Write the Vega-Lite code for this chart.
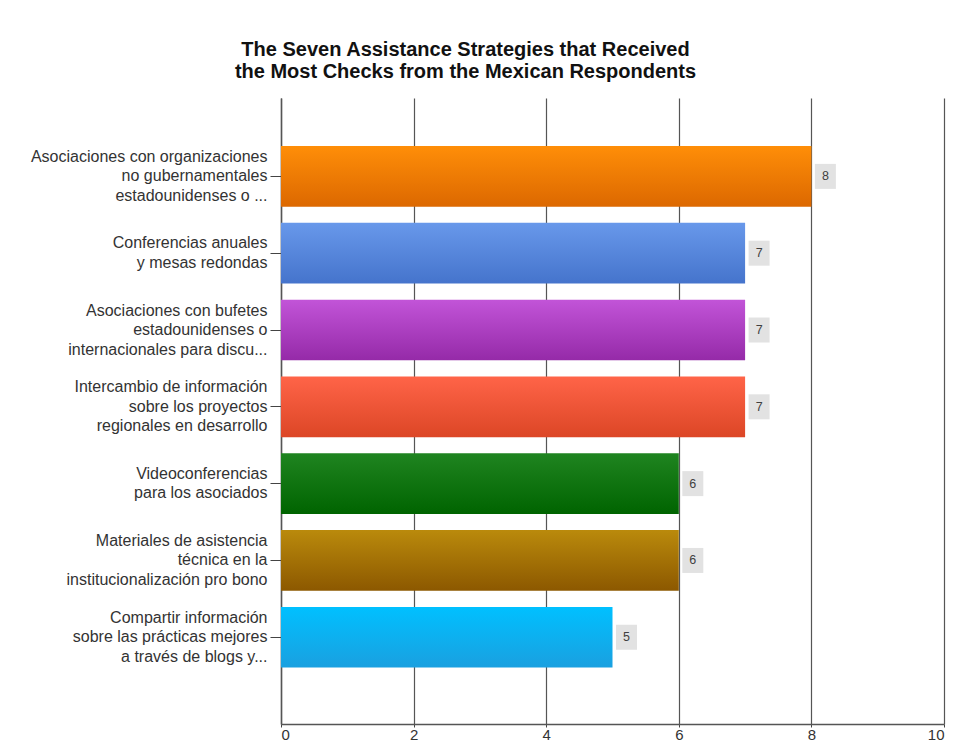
{
  "$schema": "https://vega.github.io/schema/vega-lite/v6.json",
  "autosize": "none",
  "width": 663,
  "height": 626,
  "padding": {"left": 281, "top": 98, "right": 9, "bottom": 19},
  "background": "white",
  "view": {"stroke": null},
  "title": {
    "text": ["The Seven Assistance Strategies that Received", "the Most Checks from the Mexican Respondents"],
    "font": "Liberation Sans",
    "fontSize": 20,
    "fontWeight": "bold",
    "color": "#111111",
    "anchor": "middle",
    "frame": "group",
    "dx": -147,
    "offset": 16,
    "lineHeight": 22
  },
  "data": {
    "values": [
      {"strategy": "Asociaciones con organizaciones|no gubernamentales|estadounidenses o ...", "checks": 8},
      {"strategy": "Conferencias anuales|y mesas redondas", "checks": 7},
      {"strategy": "Asociaciones con bufetes|estadounidenses o|internacionales para discu...", "checks": 7},
      {"strategy": "Intercambio de información|sobre los proyectos|regionales en desarrollo", "checks": 7},
      {"strategy": "Videoconferencias|para los asociados", "checks": 6},
      {"strategy": "Materiales de asistencia|técnica en la|institucionalización pro bono", "checks": 6},
      {"strategy": "Compartir información|sobre las prácticas mejores|a través de blogs y...", "checks": 5}
    ]
  },
  "encoding": {
    "y": {
      "field": "strategy",
      "type": "nominal",
      "sort": null,
      "title": null,
      "scale": {"paddingInner": 0.21, "paddingOuter": 0.68, "align": 0.46},
      "axis": {
        "labelExpr": "split(datum.label, '|')",
        "labelFont": "Liberation Sans",
        "labelFontSize": 16,
        "labelColor": "#333333",
        "labelLineHeight": 19.5,
        "labelLimit": 300,
        "labelPadding": 3,
        "labelOffset": {"condition": {"test": "length(split(datum.label, '|')) == 3", "value": -19.5}, "value": -9.75},
        "tickSize": 11,
        "tickColor": "#444444",
        "domainColor": "#555555",
        "domainWidth": 1.5,
        "grid": false
      }
    },
    "x": {
      "field": "checks",
      "type": "quantitative",
      "title": null,
      "scale": {"domain": [0, 10], "nice": false},
      "axis": {
        "values": [0, 2, 4, 6, 8, 10],
        "labelFont": "Liberation Sans",
        "labelFontSize": 15,
        "labelColor": "#333333",
        "labelPadding": 0,
        "tickSize": 3,
        "tickColor": "#444444",
        "domainColor": "#555555",
        "domainWidth": 1.5,
        "grid": true,
        "gridColor": "#555555",
        "gridOpacity": 1,
        "gridWidth": 1.2
      }
    }
  },
  "layer": [
    {
      "mark": {"type": "bar"},
      "encoding": {
        "color": {
          "condition": [
            {"test": "indexof(datum.strategy, 'Asociaciones con organizaciones') == 0", "value": {"gradient": "linear", "x1": 0, "y1": 0, "x2": 0, "y2": 1, "stops": [{"offset": 0, "color": "#ff8e08"}, {"offset": 1, "color": "#dc6800"}]}},
            {"test": "indexof(datum.strategy, 'Conferencias') == 0", "value": {"gradient": "linear", "x1": 0, "y1": 0, "x2": 0, "y2": 1, "stops": [{"offset": 0, "color": "#6898ea"}, {"offset": 1, "color": "#4574cc"}]}},
            {"test": "indexof(datum.strategy, 'Asociaciones con bufetes') == 0", "value": {"gradient": "linear", "x1": 0, "y1": 0, "x2": 0, "y2": 1, "stops": [{"offset": 0, "color": "#c254d8"}, {"offset": 1, "color": "#952aa8"}]}},
            {"test": "indexof(datum.strategy, 'Intercambio') == 0", "value": {"gradient": "linear", "x1": 0, "y1": 0, "x2": 0, "y2": 1, "stops": [{"offset": 0, "color": "#ff6448"}, {"offset": 1, "color": "#dc4626"}]}},
            {"test": "indexof(datum.strategy, 'Videoconferencias') == 0", "value": {"gradient": "linear", "x1": 0, "y1": 0, "x2": 0, "y2": 1, "stops": [{"offset": 0, "color": "#1f8420"}, {"offset": 1, "color": "#006400"}]}},
            {"test": "indexof(datum.strategy, 'Materiales') == 0", "value": {"gradient": "linear", "x1": 0, "y1": 0, "x2": 0, "y2": 1, "stops": [{"offset": 0, "color": "#ba8a0c"}, {"offset": 1, "color": "#8c5800"}]}},
            {"test": "indexof(datum.strategy, 'Compartir') == 0", "value": {"gradient": "linear", "x1": 0, "y1": 0, "x2": 0, "y2": 1, "stops": [{"offset": 0, "color": "#00c0ff"}, {"offset": 1, "color": "#1aa0e0"}]}}
          ],
          "value": "#888888"
        }
      }
    },
    {
      "mark": {"type": "point", "shape": "M-0.84,-1L0.84,-1L0.84,1L-0.84,1Z", "filled": true, "size": 625, "color": "#e2e2e2", "opacity": 1, "xOffset": 14}
    },
    {
      "mark": {"type": "text", "align": "center", "baseline": "middle", "dx": 14, "font": "Liberation Sans", "fontSize": 12.5, "color": "#404040"},
      "encoding": {"text": {"field": "checks", "type": "quantitative"}}
    }
  ]
}
